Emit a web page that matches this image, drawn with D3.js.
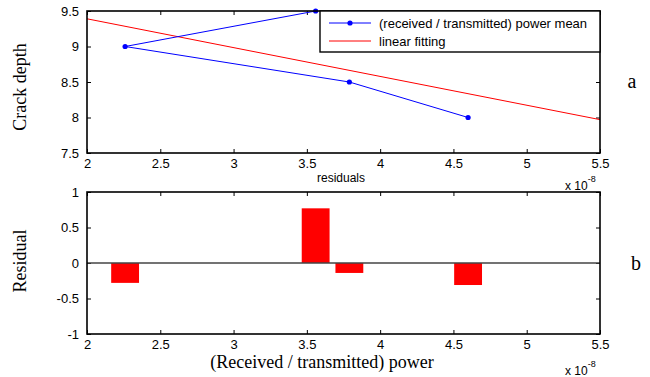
<!DOCTYPE html>
<html><head><meta charset="utf-8">
<script src="https://cdn.jsdelivr.net/npm/d3@7"></script>
<style>body{margin:0;background:#fff;} svg{display:block;}</style>
</head><body>
<script>
// Data (x in units of 1e-8)
const power = [3.56, 2.26, 3.79, 4.60];
const crackDepth = [9.5, 9.0, 8.5, 8.0];
const fitX = [2.0, 5.5];
const fitY = [9.39, 7.97];
const residualX = [2.26, 3.56, 3.79, 4.60];
const residuals = [-0.28, 0.77, -0.14, -0.31];
const xTicks = [2, 2.5, 3, 3.5, 4, 4.5, 5, 5.5];
const yTicksTop = [7.5, 8, 8.5, 9, 9.5];
const yTicksBottom = [-1, -0.5, 0, 0.5, 1];
const legendLabels = ["(received / transmitted) power mean", "linear fitting"];

const W = 650, H = 377;
const svg = d3.select("body").append("svg").attr("width", W).attr("height", H);
const sans = "Liberation Sans, Arial, sans-serif";
const serif = "Liberation Serif, Times New Roman, serif";

const x = d3.scaleLinear().domain([2, 5.5]).range([87, 600]);
const yTop = d3.scaleLinear().domain([7.5, 9.5]).range([153, 11]);
const yBot = d3.scaleLinear().domain([-1, 1]).range([334, 192]);

function frame(y, yTicks, top, bottom) {
  const g = svg.append("g");
  const fmt = d => String(d);
  g.append("g").attr("transform", `translate(0,${bottom})`)
    .call(d3.axisBottom(x).tickValues(xTicks).tickSizeInner(-4).tickSizeOuter(0).tickPadding(6).tickFormat(fmt))
    .call(s => { s.select(".domain").remove(); s.selectAll("text").attr("font-family", sans).attr("font-size", 13).attr("fill", "#000"); s.selectAll("line").attr("stroke", "#000"); });
  g.append("g").attr("transform", `translate(0,${top})`)
    .call(d3.axisTop(x).tickValues(xTicks).tickSizeInner(-4).tickSizeOuter(0).tickFormat(""))
    .call(s => { s.select(".domain").remove(); s.selectAll("line").attr("stroke", "#000"); });
  g.append("g").attr("transform", `translate(87,0)`)
    .call(d3.axisLeft(y).tickValues(yTicks).tickSizeInner(-4).tickSizeOuter(0).tickPadding(8).tickFormat(fmt))
    .call(s => { s.select(".domain").remove(); s.selectAll("text").attr("font-family", sans).attr("font-size", 13).attr("fill", "#000"); s.selectAll("line").attr("stroke", "#000"); });
  g.append("g").attr("transform", `translate(600,0)`)
    .call(d3.axisRight(y).tickValues(yTicks).tickSizeInner(-4).tickSizeOuter(0).tickFormat(""))
    .call(s => { s.select(".domain").remove(); s.selectAll("line").attr("stroke", "#000"); });
  return g;
}
function box(top, bottom) {
  svg.append("rect").attr("x", 87).attr("y", top).attr("width", 600 - 87).attr("height", bottom - top)
    .attr("fill", "none").attr("stroke", "#000").attr("stroke-width", 1.6);
}

// ---------- Top plot ----------
frame(yTop, yTicksTop, 11, 153);
const line = d3.line().x(d => x(d[0])).y(d => yTop(d[1]));
svg.append("path").datum(d3.zip(fitX, fitY)).attr("d", line)
  .attr("fill", "none").attr("stroke", "#ff0000").attr("stroke-width", 1);
const pts = d3.zip(power, crackDepth);
svg.append("path").datum(pts).attr("d", line)
  .attr("fill", "none").attr("stroke", "#0000ff").attr("stroke-width", 1);
svg.selectAll(".pt").data(pts).enter().append("circle")
  .attr("cx", d => x(d[0])).attr("cy", d => yTop(d[1])).attr("r", 2.6).attr("fill", "#0000ff");
box(11, 153);

// legend
const lg = svg.append("g");
lg.append("rect").attr("x", 320).attr("y", 11).attr("width", 280).attr("height", 41)
  .attr("fill", "#fff").attr("stroke", "#000").attr("stroke-width", 1.4);
const legY = [23, 41];
lg.append("line").attr("x1", 329).attr("x2", 371).attr("y1", legY[0]).attr("y2", legY[0]).attr("stroke", "#0000ff");
lg.append("circle").attr("cx", 350).attr("cy", legY[0]).attr("r", 2.6).attr("fill", "#0000ff");
lg.append("line").attr("x1", 329).attr("x2", 371).attr("y1", legY[1]).attr("y2", legY[1]).attr("stroke", "#ff0000");
legendLabels.forEach((t, i) => {
  lg.append("text").attr("x", 379).attr("y", legY[i] + 4.5).attr("font-family", sans).attr("font-size", 13).text(t);
});

svg.append("text").attr("x", 341).attr("y", 182).attr("text-anchor", "middle")
  .attr("font-family", sans).attr("font-size", 12).text("residuals");

function expLabel(yb) {
  const t = svg.append("text").attr("x", 565).attr("y", yb).attr("font-family", sans).attr("font-size", 12);
  t.append("tspan").text("x 10");
  t.append("tspan").attr("dy", -8).attr("font-size", 9).text("-8");
}
expLabel(190);

svg.append("text").attr("transform", "translate(26,87) rotate(-90)").attr("text-anchor", "middle")
  .attr("font-family", serif).attr("font-size", 18).text("Crack depth");
svg.append("text").attr("x", 632).attr("y", 88).attr("text-anchor", "middle")
  .attr("font-family", serif).attr("font-size", 20).text("a");

// ---------- Bottom plot ----------
frame(yBot, yTicksBottom, 192, 334);
const barW = x(2.19) - x(2);
svg.selectAll(".bar").data(d3.zip(residualX, residuals)).enter().append("rect")
  .attr("x", d => x(d[0]) - barW / 2).attr("width", barW)
  .attr("y", d => yBot(Math.max(0, d[1]))).attr("height", d => Math.abs(yBot(d[1]) - yBot(0)))
  .attr("fill", "#ff0000");
svg.append("line").attr("x1", 87).attr("x2", 600).attr("y1", yBot(0)).attr("y2", yBot(0))
  .attr("stroke", "#444").attr("stroke-width", 1.3);
box(192, 334);

expLabel(375);
svg.append("text").attr("transform", "translate(26,261) rotate(-90)").attr("text-anchor", "middle")
  .attr("font-family", serif).attr("font-size", 18).text("Residual");
svg.append("text").attr("x", 322).attr("y", 368).attr("text-anchor", "middle")
  .attr("font-family", serif).attr("font-size", 18).text("(Received / transmitted) power");
svg.append("text").attr("x", 636).attr("y", 270).attr("text-anchor", "middle")
  .attr("font-family", serif).attr("font-size", 20).text("b");
</script>
</body></html>
